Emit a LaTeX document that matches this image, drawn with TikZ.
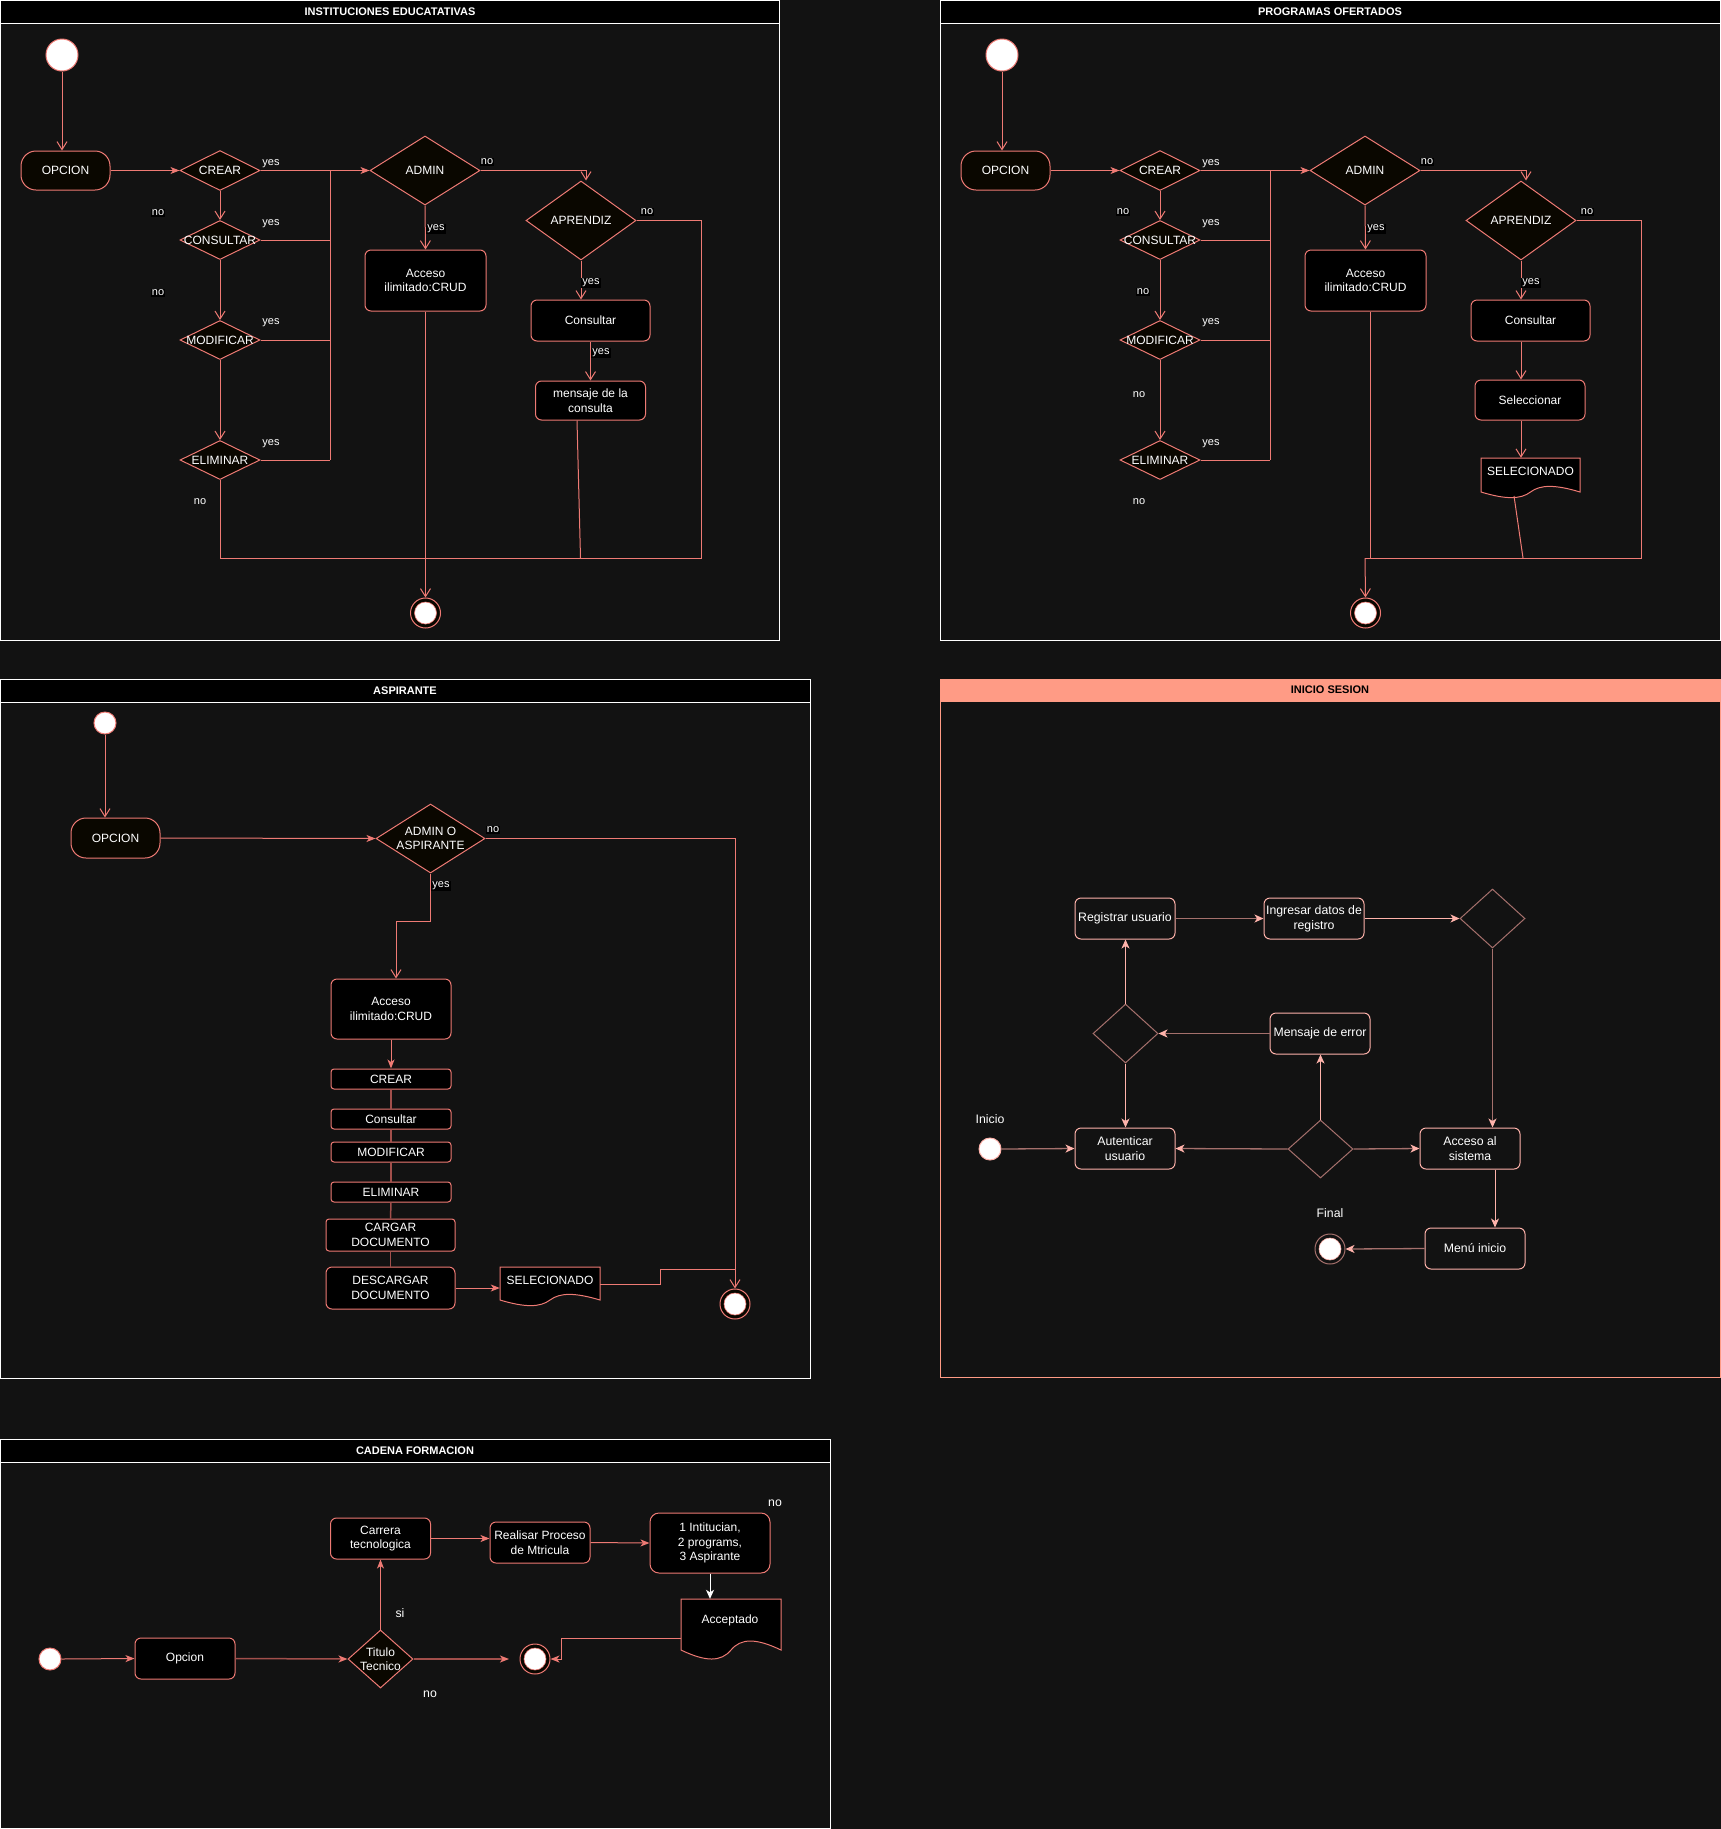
\documentclass[tikz,border=0pt]{standalone}
\usepackage{fontspec}
\setmainfont{Liberation Sans}
\usetikzlibrary{arrows.meta,shapes.geometric}
\definecolor{bg}{HTML}{121212}
\definecolor{lc}{HTML}{EE7A74}
\definecolor{lcd}{HTML}{A24F4B}
\definecolor{dfill}{HTML}{0A0700}
\definecolor{salmon}{HTML}{FF9B85}
\definecolor{pk}{HTML}{FFB3AB}
\definecolor{pkd}{HTML}{A5706C}
\newcommand{\myfa}{\fontsize{12}{14.5}\selectfont}
\newcommand{\myfb}{\fontsize{11}{13}\selectfont}
\newcommand{\myfc}{\fontsize{12.3}{14.8}\selectfont}
\newcommand{\myft}{\fontsize{11}{13}\selectfont\bfseries}
\newcommand{\docshape}[6]{%
 \path[#6] (#1,#2) -- (#3,#2) -- (#3,#4)
  .. controls ({#3-0.25*(#3-#1)},{#4-1.5*#5}) and ({#1+0.6*(#3-#1)},{#4-1.5*#5}) .. ({0.5*(#1+#3)},{#4})
  .. controls ({#1+0.4*(#3-#1)},{#4+1.5*#5}) and ({#1+0.25*(#3-#1)},{#4+1.5*#5}) .. (#1,#4) -- cycle;}
\tikzset{
 ln/.style={draw=lc,line width=1pt},
 lnd/.style={draw=lcd,line width=1.5pt},
 ao/.style={-{Straight Barb[length=8pt,width=10pt]}},
 af/.style={-{Stealth[length=9pt,width=7pt,inset=2.5pt,color=lc]}},
 afp/.style={-{Stealth[length=9pt,width=8pt,inset=2.5pt,color=pk]}},
 afw/.style={-{Stealth[length=9pt,width=8pt,inset=2.5pt,color=white]}},
 wl/.style={draw=white,line width=1pt},
 il/.style={draw=pkd,line width=1.3pt},
 ilv/.style={draw=pk,line width=1pt},
 dia/.style={diamond,draw=lc,fill=dfill,inner sep=0pt,line width=1pt},
 dtx/.style={text=white,font=\myfa,align=center,inner sep=0pt},
 rbox/.style={rectangle,rounded corners=6pt,draw=lc,fill=black,text=white,font=\myfa,align=center,inner sep=1pt,line width=1pt},
 sbox/.style={rbox,rounded corners=3pt},
 stad/.style={rbox,fill=dfill,rounded corners=15pt},
 stc/.style={circle,fill=white,draw=lc,line width=1pt,inner sep=0pt},
 fin/.style={circle,draw=lc,fill=dfill,line width=1pt,inner sep=0pt,minimum size=30pt},
 fini/.style={circle,fill=white,draw=lc,line width=0.6pt,inner sep=0pt,minimum size=22pt},
 docst/.style={draw=lc,fill=black,line width=1pt},
 lab/.style={text=white,font=\myfb,inner sep=1pt},
 labbg/.style={lab,fill=black},
 ttl/.style={text=white,font=\myft,inner sep=0pt},
 ibox/.style={rectangle,rounded corners=6pt,draw=pk,fill=bg,text=white,font=\myfc,align=center,minimum width=100pt,minimum height=41pt,inner sep=1pt,line width=1pt},
 idia/.style={diamond,draw=pkd,fill=bg,inner sep=0pt,line width=1pt,minimum width=65pt,minimum height=59pt},
 lab4/.style={text=white,font=\myfc,inner sep=0pt}
}
\newcommand{\toppanel}[1]{%
 \node[stc,minimum size=32pt] (s#1) at (62,55) {};
 \node[stad,minimum width=89pt,minimum height=39pt] (o#1) at (65.5,170.5) {OPCION};
 \node[dia,minimum width=80pt,minimum height=40pt] (cr#1) at (220,170.5) {};
 \node[dtx] (cr#1t) at (cr#1) {CREAR};
 \node[dia,minimum width=80pt,minimum height=39pt] (co#1) at (220,240) {};
 \node[dtx] (co#1t) at (co#1) {CONSULTAR};
 \node[dia,minimum width=80pt,minimum height=39pt] (mo#1) at (220,340) {};
 \node[dtx] (mo#1t) at (mo#1) {MODIFICAR};
 \node[dia,minimum width=80pt,minimum height=39pt] (el#1) at (220,460) {};
 \node[dtx] (el#1t) at (el#1) {ELIMINAR};
 \node[dia,minimum width=110pt,minimum height=69pt] (ad#1) at (425,170.5) {};
 \node[dtx] (ad#1t) at (ad#1) {ADMIN};
 \node[dia,minimum width=110pt,minimum height=79pt] (ap#1) at (581,220.5) {};
 \node[dtx] (ap#1t) at (ap#1) {APRENDIZ};
 \node[rbox,minimum width=121pt,minimum height=61pt] (ac#1) at (425.5,280.5) {Acceso\\ilimitado:CRUD};
 \node[rbox,minimum width=119pt,minimum height=41pt] (cs#1) at (590.5,320.5) {Consultar};
 \node[fin] (f#1) at (425.5,613) {};
 \node[fini] (f#1i) at (f#1) {};
 \coordinate (bt#1) at (330,170.5);
 \coordinate (bb#1) at (330,460);
 \draw[ln,ao] (s#1.south) -- (s#1.south |- o#1.north);
 \draw[ln,af] (o#1.east) -- (cr#1.west);
 \draw[ln,af] (cr#1.east) -- (ad#1.west);
 \draw[ln] (bt#1) -- (bb#1);
 \draw[ln] (co#1.east) -- (co#1.east -| bt#1);
 \draw[ln] (mo#1.east) -- (mo#1.east -| bt#1);
 \draw[ln] (el#1.east) -- (el#1.east -| bt#1);
 \draw[ln,ao] (cr#1.south) -- (co#1.north);
 \draw[ln,ao] (co#1.south) -- (mo#1.north);
 \draw[ln,ao] (mo#1.south) -- (el#1.north);
 \draw[ln,ao] (ad#1.south) -- (ac#1.north);
 \draw[ln,ao] (ad#1.east) -| ([xshift=5pt]ap#1.north);
 \draw[ln,ao] (ap#1.south) -- (cs#1.north -| ap#1.south);
 \node[lab] (ya#1) at (271,164) {yes};
 \node[lab] (yb#1) at (271,224) {yes};
 \node[lab] (yc#1) at (271,323) {yes};
 \node[lab] (yd#1) at (271,444) {yes};
 \node[labbg] (na#1) at (487,162) {no};
 \node[labbg] (ye#1) at (436,229) {yes};
 \node[labbg] (nb#1) at (647,212) {no};
 \node[labbg] (yf#1) at (591,283) {yes};
}
\begin{document}
\begin{tikzpicture}[x=1pt,y=-1pt]
\useasboundingbox (0,0) rectangle (1721,1829);
\fill[bg] (0,0) rectangle (1721,1829);

% ---------- Panel 1 ----------
\draw[white,line width=1pt] (0.5,0.5) rectangle (779.5,640);
\draw[white,fill=black,line width=1pt] (0.5,0.5) rectangle (779.5,23);
\node[ttl] (t1) at (390,12) {INSTITUCIONES EDUCATATIVAS};
\toppanel{1}
\node[rbox,minimum width=110pt,minimum height=39pt] (me1) at (590.5,400.5) {mensaje de la\\consulta};
\draw[ln,ao] (cs1.south) -- (me1.north);
\coordinate (bb1r) at (701,558);
\coordinate (mb1) at (580.5,558);
\draw[ln] (el1.south) |- (bb1r) -- (bb1r |- ap1.east) -- (ap1.east);
\draw[ln] ([xshift=-13.5pt]me1.south) -- (mb1);
\draw[ln,ao] (ac1.south) -- (f1.north);
\node[labbg] (nc1) at (158,213) {no};
\node[labbg] (nd1) at (158,293) {no};
\node[lab] (ne1) at (200,502) {no};
\node[labbg] (yg1) at (601,353) {yes};

% ---------- Panel 2 ----------
\draw[white,line width=1pt] (940.5,0.5) rectangle (1720.5,640);
\draw[white,fill=black,line width=1pt] (940.5,0.5) rectangle (1720.5,23);
\node[ttl] (t2) at (1330,12) {PROGRAMAS OFERTADOS};
\begin{scope}[xshift=940pt]
\toppanel{2}
\node[rbox,minimum width=110pt,minimum height=40pt] (se2) at (590,400) {Seleccionar};
\docshape{541}{458}{640}{492}{5}{docst}
\node[inner sep=0pt,minimum width=99pt,minimum height=34pt] (sl2) at (590.5,475) {};
\node[dtx] (sl2t) at (590.5,471) {SELECIONADO};
\draw[ln,ao] (cs2.south -| ap2.south) -- (se2.north -| ap2.south);
\draw[ln,ao] (se2.south -| ap2.south) -- (sl2.north -| ap2.south);
\coordinate (sb2) at (583,558);
\draw[ln] (574,496) -- (sb2);
\coordinate (bb2l) at (425,558);
\coordinate (bb2r) at (701,558);
\draw[ln] ([xshift=4.5pt]ac2.south) -- ([xshift=4.5pt]ac2.south |- bb2l);
\draw[ln,ao] (bb2l) -- (f2.north);
\draw[ln] (bb2l) -- (bb2r) -- (bb2r |- ap2.east) -- (ap2.east);
\node[labbg] (nc2) at (183,212) {no};
\node[labbg] (nd2) at (203,292) {no};
\node[lab] (ne2) at (199,395) {no};
\node[lab] (nf2) at (199,502) {no};
\end{scope}

% ---------- Panel 3 ----------
\draw[white,line width=1pt] (0.5,679.5) rectangle (810.5,1378);
\draw[white,fill=black,line width=1pt] (0.5,679.5) rectangle (810.5,702);
\node[ttl] (t3) at (405,691) {ASPIRANTE};
\node[stc,minimum size=22pt] (s3) at (105,723) {};
\node[stad,minimum width=89pt,minimum height=40pt] (o3) at (115.5,838) {OPCION};
\node[dia,minimum width=109pt,minimum height=69pt] (d3) at (430.5,838.5) {};
\node[dtx] (d3t) at (d3) {ADMIN O\\ASPIRANTE};
\node[rbox,minimum width=120pt,minimum height=60pt] (ac3) at (391,1009) {Acceso\\ilimitado:CRUD};
\node[sbox,minimum width=120pt,minimum height=20pt] (b3a) at (391,1079) {CREAR};
\node[sbox,minimum width=120pt,minimum height=20pt] (b3b) at (391,1119) {Consultar};
\node[sbox,minimum width=120pt,minimum height=20pt] (b3c) at (391,1152) {MODIFICAR};
\node[sbox,minimum width=120pt,minimum height=20pt] (b3d) at (391,1192) {ELIMINAR};
\node[sbox,minimum width=129pt,minimum height=32pt] (b3e) at (390.5,1235) {CARGAR\\DOCUMENTO};
\node[sbox,minimum width=129pt,minimum height=42pt,rounded corners=6pt] (b3f) at (390.5,1288) {DESCARGAR\\DOCUMENTO};
\docshape{500}{1267}{600}{1300}{5}{docst}
\node[inner sep=0pt,minimum width=100pt,minimum height=34pt] (sl3) at (550,1284) {};
\node[dtx] (sl3t) at (550,1280) {SELECIONADO};
\node[fin] (f3) at (735,1304) {};
\node[fini] (f3i) at (f3) {};
\draw[ln,ao] (s3.south) -- (s3.south |- o3.north);
\draw[ln,af] (o3.east) -- (d3.west);
\draw[ln,ao] (d3.east) -| (f3.north);
\coordinate (y3) at (0,921);
\draw[ln,ao] (d3.south) -- (d3.south |- y3) -| ([xshift=5pt]ac3.north);
\draw[ln,af] (ac3.south) -- (b3a.north);
\draw[lnd] (b3a.south) -- (b3b.north);
\draw[lnd] (b3b.south) -- (b3c.north);
\draw[lnd] (b3c.south) -- (b3d.north);
\draw[lnd] (b3d.south) -- (b3e.north);
\draw[lnd] (b3e.south) -- (b3f.north);
\draw[ln,af] (b3f.east) -- (b3f.east -| sl3.west);
\coordinate (j3) at (735,1269);
\draw[ln] (sl3.east) -| (660,1269) -- (j3);
\node[labbg] (n3) at (493,830) {no};
\node[labbg] (y3l) at (441,886) {yes};

% ---------- Panel 4 ----------
\draw[salmon,line width=1pt] (940.5,679.5) rectangle (1720.5,1377.5);
\draw[salmon,fill=salmon,line width=1pt] (940.5,679.5) rectangle (1720.5,701);
\node[ttl,text=black] (t4) at (1330,690) {INICIO SESION};
\node[ibox] (reg) at (1125,918.5) {Registrar usuario};
\node[ibox] (ing) at (1314,918.5) {Ingresar datos de\\registro};
\node[idia] (dd1) at (1492.5,918.5) {};
\node[ibox] (err) at (1320,1033.5) {Mensaje de error};
\node[idia] (dd3) at (1125.5,1033.5) {};
\node[ibox] (aut) at (1125,1148.5) {Autenticar\\usuario};
\node[idia,minimum height=58pt] (dd2) at (1320.5,1149) {};
\node[ibox] (acs) at (1470,1148.5) {Acceso al\\sistema};
\node[ibox] (men) at (1475,1248.5) {Menú inicio};
\node[stc,draw=pk,minimum size=22pt] (st4) at (990,1149) {};
\node[fin,draw=pkd,fill=bg] (fn4) at (1330,1249) {};
\node[fini,draw=pk] (fn4i) at (fn4) {};
\node[lab4] (lin) at (990,1119) {Inicio};
\node[lab4] (lfi) at (1330,1213) {Final};
\draw[il,afp] (reg.east) -- (ing.west);
\draw[ilv,afp] (ing.east) -- (dd1.west);
\draw[il,afp] (dd1.south) -- (dd1.south |- acs.north);
\draw[ilv,afp] ([xshift=25pt]acs.south) -- ([xshift=25pt]acs.south |- men.north);
\draw[il,afp] (men.west) -- (fn4.east);
\draw[il,afp] (dd2.east) -- (acs.west);
\draw[il,afp] (dd2.west) -- (aut.east);
\draw[ilv,afp] (dd2.north) -- (dd2.north |- err.south);
\draw[il,afp] (err.west) -- (dd3.east);
\draw[ilv,afp] (dd3.north) -- (dd3.north |- reg.south);
\draw[ilv,afp] (dd3.south) -- (dd3.south |- aut.north);
\draw[il,afp] (st4.east) -- (aut.west);

% ---------- Panel 5 ----------
\draw[white,line width=1pt] (0.5,1439.5) rectangle (830.5,1828.5);
\draw[white,fill=black,line width=1pt] (0.5,1439.5) rectangle (830.5,1462);
\node[ttl] (t5) at (415,1451) {CADENA FORMACION};
\node[stc,minimum size=22pt] (st5) at (50,1659) {};
\node[rbox,minimum width=100pt,minimum height=41pt] (op5) at (185,1658.5) {Opcion};
\node[dia,minimum width=65pt,minimum height=58pt] (tt5) at (380.5,1659) {};
\node[dtx] (tt5t) at (tt5) {Titulo\\Tecnico};
\node[rbox,minimum width=100pt,minimum height=41pt] (ca5) at (380.5,1538.5) {Carrera\\tecnologica};
\node[rbox,minimum width=100pt,minimum height=41pt] (re5) at (540,1542.5) {Realisar Proceso\\de Mtricula};
\node[rbox,minimum width=120pt,minimum height=60pt,rounded corners=9pt] (in5) at (710,1543) {1 Intitucian,\\2 programs,\\3 Aspirante};
\docshape{681}{1599}{781}{1650}{8}{docst}
\node[inner sep=0pt,minimum width=100pt,minimum height=51pt] (ac5) at (731,1624.5) {};
\node[dtx] (ac5t) at (730,1620) {Acceptado};
\node[fin] (fn5) at (535,1659) {};
\node[fini] (fn5i) at (fn5) {};
\coordinate (e5) at (509,1659);
\coordinate (a5) at (681,1638);
\draw[ln,af] (st5.east) -- (op5.west);
\draw[lnd,af] (op5.east) -- (tt5.west);
\draw[ln,af] (tt5.north) -- (tt5.north |- ca5.south);
\draw[ln,af] (ca5.east) -- (ca5.east -| re5.west);
\draw[ln,af] (re5.east) -- (in5.west);
\draw[wl,afw] (in5.south) -- (in5.south |- ac5.north);
\draw[ln,af] (a5) -| (561,1659) -- (fn5.east);
\draw[lnd,af] (tt5.east) -- (e5);
\node[lab4] (si5) at (400,1613) {si};
\node[lab4] (no5a) at (430,1694) {no};
\node[lab4] (no5b) at (775,1503) {no};
\end{tikzpicture}
\end{document}
